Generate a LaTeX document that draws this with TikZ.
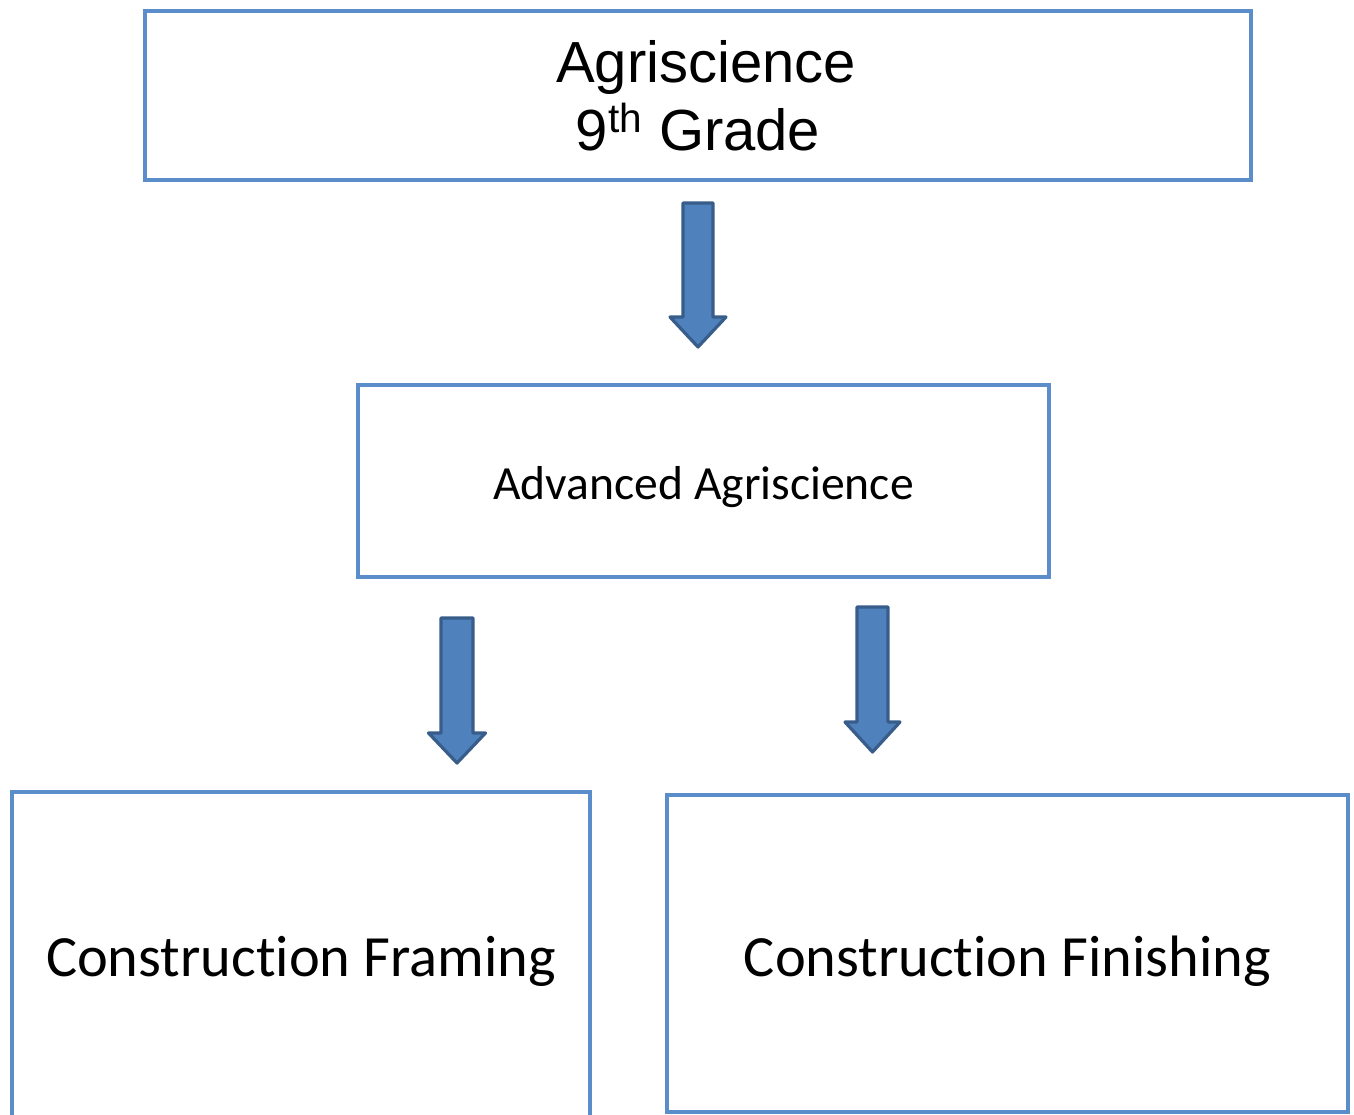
\documentclass[tikz,border=0pt]{standalone}
\usepackage{fontspec}
\newfontfamily\arialf{Liberation Sans}
\newfontfamily\calf[Ligatures=NoCommon]{Carlito}
\definecolor{boxline}{RGB}{91,141,203}
\definecolor{arrfill}{RGB}{79,129,189}
\definecolor{arrline}{RGB}{56,93,138}
\tikzset{
  box/.style={draw=boxline, line width=2pt, fill=white, inner sep=0pt, align=center},
  blockarr/.style={fill=arrfill, draw=arrline, line width=1.6pt, line join=round}
}
\newcommand{\myblockarrow}[6]{% cx, top, heady, tip, shafthalf, headhalf
  \draw[blockarr] (#1-#5,#2) -- (#1+#5,#2) -- (#1+#5,#3) -- (#1+#6,#3) -- (#1,#4) -- (#1-#6,#3) -- (#1-#5,#3) -- cycle;
}
\newcommand{\lowered}[2]{\raisebox{-#1}[\height][\depth]{#2}}
\begin{document}
\begin{tikzpicture}[x=0.5pt,y=-0.5pt]
\useasboundingbox (0,0) rectangle (1354,1114);
\clip (0,0) rectangle (1354,1114);
\node[box, minimum width=553pt, minimum height=84.5pt,
  font=\arialf\fontsize{29pt}{34pt}\selectfont] (top) at (698,95.5)
  {\hspace*{8pt}Agriscience\\9\textsuperscript{th} Grade};
\node[box, minimum width=345.5pt, minimum height=96pt,
  font=\calf\fontsize{23.8pt}{28pt}\selectfont] (mid) at (703.5,481)
  {\lowered{3pt}{Advanced Agriscience}};
\node[box, minimum width=289pt, minimum height=166pt,
  font=\calf\fontsize{29.2pt}{34pt}\selectfont] (bl) at (301,958)
  {\lowered{1.5pt}{Construction Framing}};
\node[box, minimum width=340.5pt, minimum height=158.5pt,
  font=\calf\fontsize{29.2pt}{34pt}\selectfont] (br) at (1007.5,953.5)
  {\lowered{4pt}{Construction Finishing}};
\myblockarrow{698}{203}{317}{347}{15}{28}
\myblockarrow{457}{618}{733}{763}{16}{28.5}
\myblockarrow{872.5}{607}{722}{752}{15.5}{27.5}
\end{tikzpicture}
\end{document}
